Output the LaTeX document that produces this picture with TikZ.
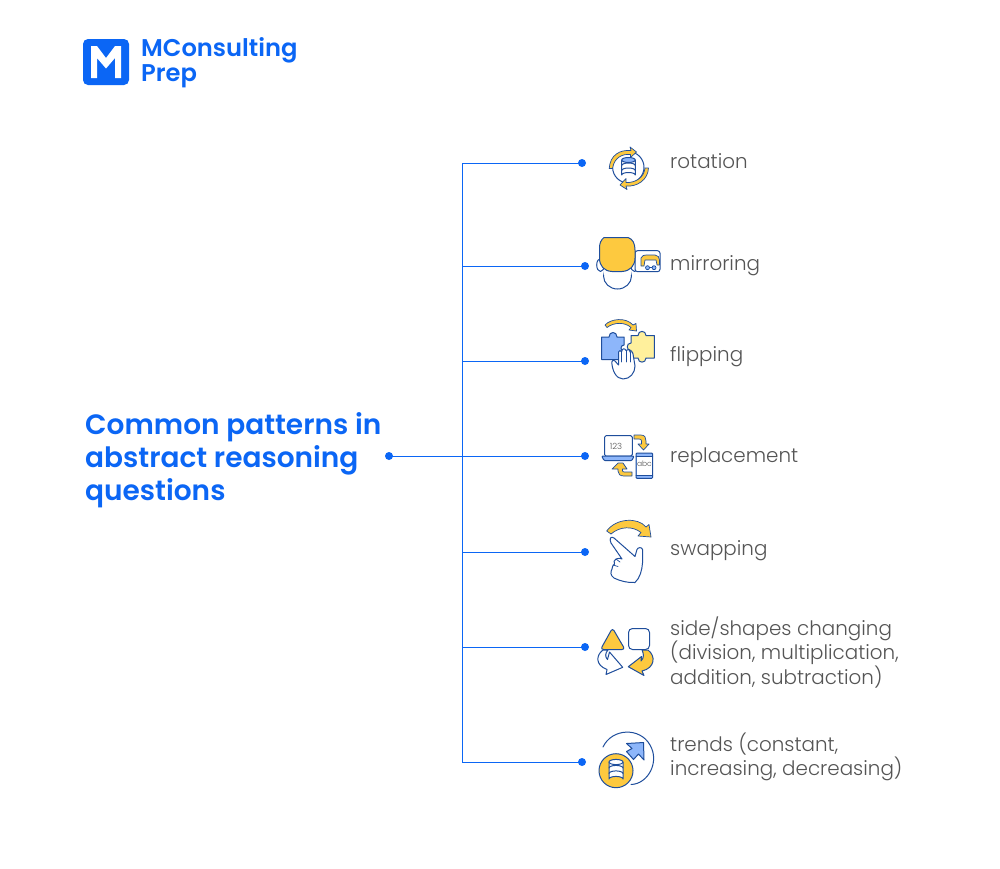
\documentclass[tikz,border=0pt]{standalone}
\usepackage{fontspec}
\setmainfont{Poppins Light}
\newfontfamily\headf{Poppins SemiBold}
\definecolor{brand}{HTML}{0B66F5}
\definecolor{ink}{HTML}{1F4E9C}
\definecolor{gold}{HTML}{FDC93F}
\definecolor{sky}{HTML}{8DB6FA}
\definecolor{pale}{HTML}{FFF09C}
\definecolor{txt}{HTML}{555555}
\tikzset{
 conn/.style={draw=brand,line width=1pt},
 dotn/.style={circle,fill=brand,inner sep=0pt,minimum size=8pt},
 lab/.style={anchor=west,inner sep=0pt,text=txt,font=\fontsize{19.9}{24.5}\selectfont,align=left},
 head/.style={anchor=west,inner sep=0pt,text=brand,font=\headf\fontsize{28}{33}\selectfont,align=left},
 ic/.style={draw=ink,line width=1pt,line join=round,line cap=round},
 icy/.style={ic,fill=gold},
 icw/.style={ic,fill=white},
 thin ic/.style={line width=.7pt},
}
\begin{document}
\begin{tikzpicture}[x=1pt,y=-1pt]
\useasboundingbox[fill=white] (0,0) rectangle (1000,868);
% logo
\fill[brand,rounded corners=5pt] (83,39) rectangle (129,85);
\fill[white] (91,46) -- (97,46) -- (106,58) -- (115,46) -- (121,46) -- (121,78) -- (115,78) -- (115,58) -- (106,68.5) -- (97,58) -- (97,78) -- (91,78) -- cycle;
\node[anchor=west,inner sep=0pt,text=brand,font=\headf\fontsize{24.2}{23}\selectfont,align=left] (logo) at (141,62.5) {MConsulting\\Prep};
% title and labels
\node[head] (title) at (85,460) {Common patterns in\\abstract reasoning\\questions};
\node[lab] (t1) at (670,161) {rotation};
\node[lab] (t2) at (670,265.5) {mirroring};
\node[lab] (t3) at (670,356.5) {flipping};
\node[lab] (t4) at (670,458) {replacement};
\node[lab] (t5) at (670,550.5) {swapping};
\node[lab] (t6) at (670,652) {side/shapes changing\\(division, multiplication,\\addition, subtraction)};
\node[lab] (t7) at (670,757) {trends (constant,\\increasing, decreasing)};
% connectors
\node[dotn] (d0) at (389,456) {};
\node[dotn] (d1) at (582,163) {};
\node[dotn] (d2) at (585,266) {};
\node[dotn] (d3) at (585,361) {};
\node[dotn] (d4) at (585,456) {};
\node[dotn] (d5) at (585,552) {};
\node[dotn] (d6) at (585,647) {};
\node[dotn] (d7) at (582,762) {};
\draw[conn] (d1.center) -| (462,762) -- (d7.center);
\draw[conn] (d0.center) -- (d4.center);
\draw[conn] (462,266) -- (d2.center);
\draw[conn] (462,361) -- (d3.center);
\draw[conn] (462,552) -- (d5.center);
\draw[conn] (462,647) -- (d6.center);
% --- rotation icon
\draw[ic] (628.3,167.3) circle (15.7);
\draw[icw] (621.7,160) -- (621.7,175) arc[start angle=180,end angle=360,x radius=6.8,y radius=2.5] -- (635.3,160) -- cycle;
\draw[ic] (621.7,165.5) arc[start angle=180,end angle=360,x radius=6.8,y radius=2.5];
\draw[ic] (621.7,170.5) arc[start angle=180,end angle=360,x radius=6.8,y radius=2.5];
\draw[ic,fill=sky] (628.5,160) ellipse (6.8 and 2.5);
\draw[icy,thin ic] (609.2,168.5) .. controls (610,155) and (620,149.5) .. (631,150.5) -- (630,147) -- (636.5,152) -- (630.5,157.5) -- (630.5,154.5) .. controls (622,153.5) and (614,158) .. (612.5,168.5) -- cycle;
\draw[icy,thin ic] (648.5,168) .. controls (648,180) and (637,187) .. (626,186) -- (627,189.5) -- (620,185) -- (626,178.5) -- (626,182.5) .. controls (635,183) and (644,178) .. (645,168) -- cycle;
% --- mirroring icon
\draw[icw] (617.5,276) ellipse (14 and 13);
\draw[icw] (600.5,265) ellipse (3.8 and 6.5);
\draw[icw] (634.5,265) ellipse (3.8 and 6.5);
\fill[white] (604,262) rectangle (631,275);
\draw[icw,rounded corners=2.5pt] (635,250.7) rectangle (660,271.7);
\draw[icy] (604,237.5) -- (628,237.5) .. controls (633,239) and (635,244) .. (635,250) -- (635,258) .. controls (635,266) and (630,271) .. (622,271.5) -- (612,271.5) .. controls (604,271) and (599.5,266) .. (599.5,258) -- (599.5,248) .. controls (599.5,243) and (601,240) .. (604,237.5) -- cycle;
\draw[icy,thin ic] (641,266) -- (641,258) .. controls (642,255.5) and (644,255) .. (646,255) -- (655,255) .. controls (658,255.5) and (659.5,257) .. (659.5,260) -- (659.5,265) -- (657,265) -- (656,260) -- (645,260) -- (644,266) -- cycle;
\draw[ic,fill=sky,thin ic] (647.5,267.7) circle (2) (654,267.7) circle (2);
\draw[ic,thin ic] (649.5,267.7) -- (652,267.7);
% --- flipping icon
\draw[icy,thin ic] (605,325) .. controls (611,318.5) and (626,317) .. (633,325) -- (636,323.5) -- (636.5,331) -- (629,330) -- (631,327.5) .. controls (625,322) and (614,322) .. (607,327.5) -- cycle;
\draw[ic,fill=sky] (601.7,337) -- (609,337) .. controls (609,331) and (617,331) .. (617,337) -- (624,337) -- (624,345) .. controls (620,345) and (620,351) .. (624,351) -- (624,359.5) -- (601.7,359.5) -- cycle;
\draw[ic,fill=pale] (631,335.5) -- (638,335.5) .. controls (638,330) and (646,330) .. (646,335.5) -- (654.3,335.5) -- (654.3,358) -- (646,358) .. controls (646,363.5) and (638,363.5) .. (638,358) -- (631,358) -- (631,350.5) .. controls (626,350.5) and (626,343) .. (631,343) -- cycle;
\draw[icw] (623,379) .. controls (616,379) and (612,370) .. (611.8,362) .. controls (612,359.5) and (614,359.5) .. (615,361) -- (618.5,365) -- (618.5,352) .. controls (619,350) and (621,350) .. (621.5,352) .. controls (622,348) and (625,348) .. (626,350.5) .. controls (627,349) and (630,349) .. (630,352) .. controls (632,351) and (633,352) .. (633,354) -- (635,366) .. controls (635,373) and (630,379) .. (623,379) -- cycle;
\draw[ic,thin ic] (621.5,352) -- (621.5,362) (626,350.5) -- (626,362) (630,352) -- (630,362);
% --- replacement icon
\draw[icw,rounded corners=1.5pt] (604.5,435.7) rectangle (632.3,456);
\node[inner sep=0pt,text=txt,font=\fontsize{8.5}{9}\selectfont] (n123) at (616,446) {123};
\draw[ic,fill=sky,rounded corners=1pt] (601.7,456) -- (634,456) -- (632,460.5) -- (604,460.5) -- cycle;
\draw[ic,fill=sky,rounded corners=1pt] (636,453) rectangle (652.7,478.3);
\fill[white] (636.6,456) rectangle (652.1,475.5);
\draw[ic] (636,456) -- (652.7,456) (636,475.5) -- (652.7,475.5);
\node[inner sep=0pt,text=txt,font=\fontsize{7.5}{8}\selectfont] (nabc) at (644.4,463.3) {abc};
\draw[icy,thin ic] (634,435) -- (641,435) .. controls (645,435) and (646,438) .. (646,441) -- (646,444) -- (649,444) -- (643.5,450) -- (638,444) -- (641.5,444) -- (641.5,441) .. controls (641.5,439.5) and (640.5,439) .. (639,439) -- (634,439) -- cycle;
\draw[icy,thin ic] (632,476) -- (624,476) .. controls (620,476) and (618,474) .. (618,471) -- (618,469) -- (612,469) -- (618,463) -- (623,463) -- (627,469) -- (622.5,469) -- (622.5,470.5) .. controls (622.5,471.5) and (623,472) .. (624.5,472) -- (632,472) -- cycle;
% --- swapping icon
\draw[icy,thin ic] (606.7,531) .. controls (616,518) and (638,517) .. (646,527) -- (649,524.5) -- (651,537) -- (638,536) -- (641,532.5) .. controls (633,526) and (620,526) .. (611,534) -- cycle;
\draw[icw] (610.5,538) .. controls (611,537) and (613,537) .. (614,538) -- (635,556.5) -- (637,549.5) .. controls (638,547) and (642,547) .. (642.5,549.5) -- (642.5,563) .. controls (642,570) and (640,578) .. (635,582.5) .. controls (628,583) and (620,581) .. (614,578) .. controls (610,575) and (610.5,572) .. (612,569) .. controls (612,567) and (613,565) .. (614.5,564) .. controls (613.5,562) and (614,560) .. (616,559) .. controls (618,558) and (621,558) .. (622,559) -- (611,543) .. controls (610,541) and (610,539) .. (610.5,538) -- cycle;
\draw[ic,thin ic] (616,559) -- (620,562) (613,565) -- (618,566.5);
% --- shapes icon
\draw[ic,fill=gold,rounded corners=3pt] (612.5,628) -- (625,649.5) -- (600.5,649.5) -- cycle;
\draw[icw,rounded corners=4pt] (628.5,628.5) rectangle (649.5,649.5);
\draw[icw] (603,650) .. controls (596,655) and (595,665) .. (607,669.5) -- (606,674.5) -- (622.7,667.3) -- (609.5,652) -- (607.5,659.5) .. controls (605,657) and (605,653) .. (608,650) -- cycle;
\draw[icy] (648,650) .. controls (656,656) and (655,668) .. (642,671) -- (644,675.5) -- (628.3,666.7) -- (641.5,656.5) -- (641,661) .. controls (644,658) and (644,654) .. (642,650) -- cycle;
% --- trends icon
\draw[ic] (603,747) .. controls (612,728) and (640,727) .. (650,745) .. controls (660,762) and (648,784) .. (631,784.5);
\draw[ic,fill=sky] (626.5,743.5) -- (643.5,742.5) -- (644,760) -- (638.5,754) -- (633.5,759.5) -- (626.5,751.5) -- (632,748.5) -- cycle;
\draw[ic,fill=gold] (616,770.7) circle (17);
\draw[icw] (609,762) -- (609,779) arc[start angle=180,end angle=360,x radius=7,y radius=2.6] -- (623,762) -- cycle;
\draw[ic] (609,768) arc[start angle=180,end angle=360,x radius=7,y radius=2.6];
\draw[ic] (609,773.5) arc[start angle=180,end angle=360,x radius=7,y radius=2.6];
\draw[icw] (616,762) ellipse (7 and 2.6);
\end{tikzpicture}
\end{document}
